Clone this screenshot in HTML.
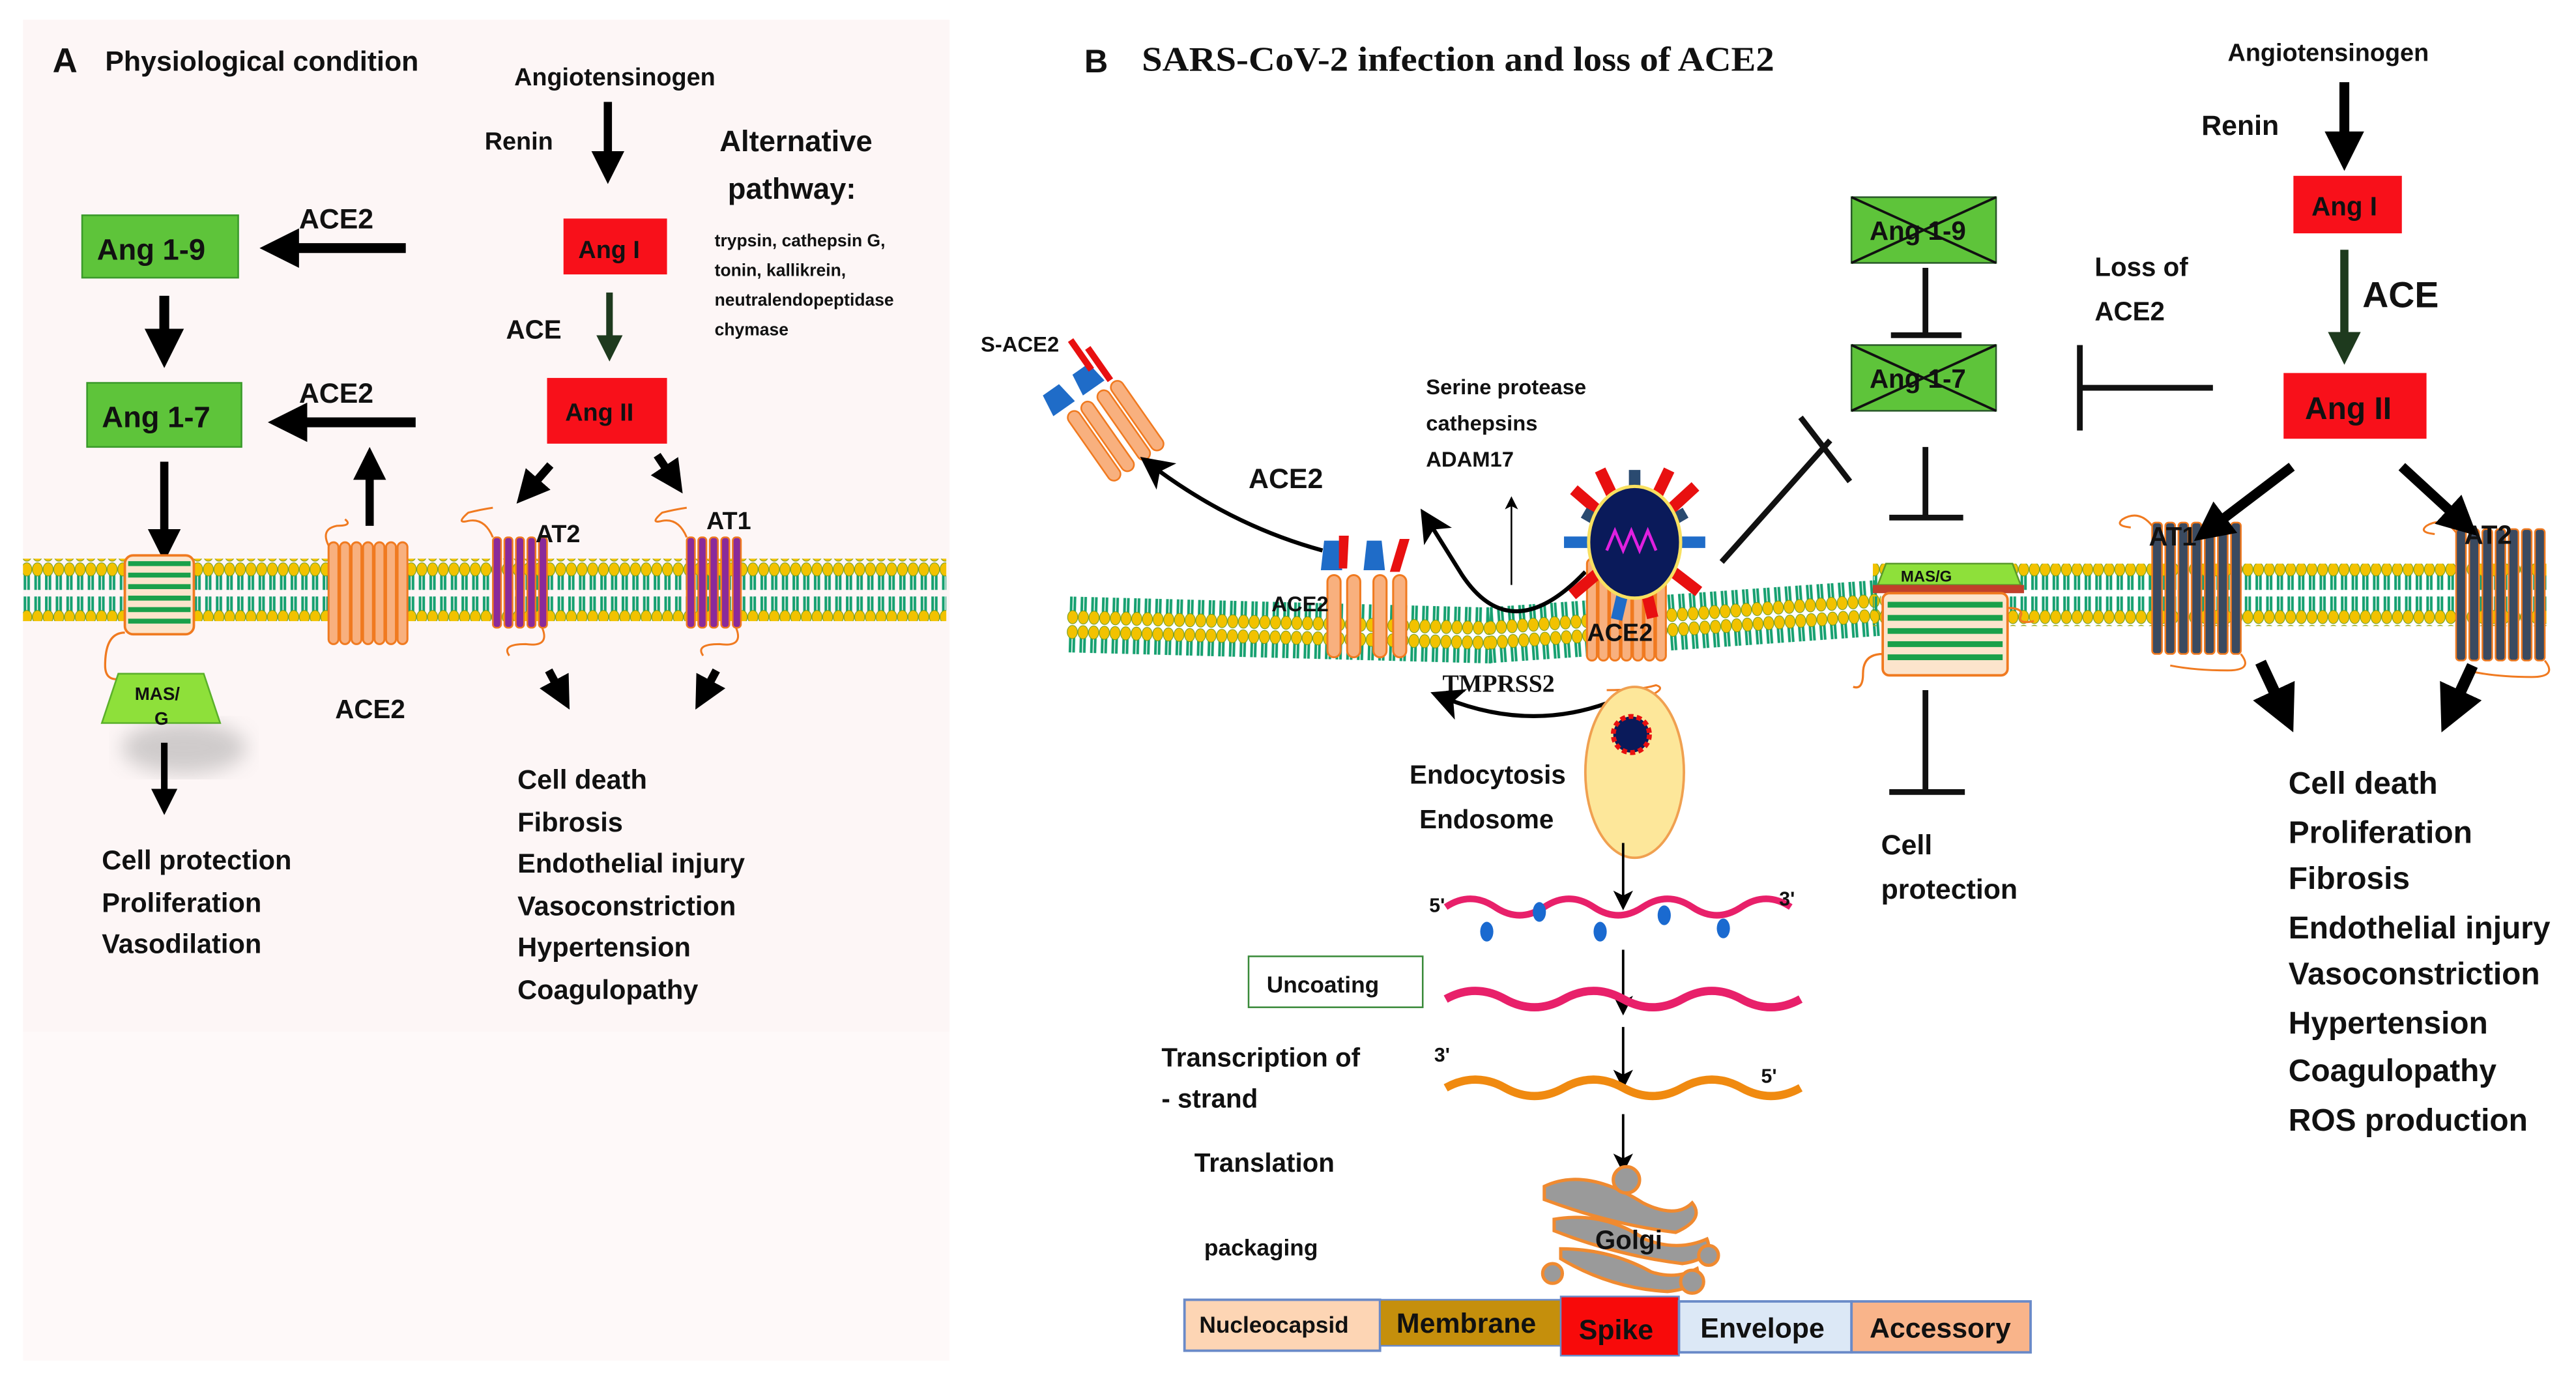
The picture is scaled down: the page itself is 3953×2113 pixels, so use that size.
<!DOCTYPE html>
<html><head><meta charset="utf-8"><style>
html,body{margin:0;padding:0;background:#fff;width:3953px;height:2113px;overflow:hidden}
svg{display:block}
text{font-family:"Liberation Sans",sans-serif;font-weight:bold;fill:#111}
.s{font-family:"Liberation Serif",serif}
</style></head><body>
<svg width="3953" height="2113" viewBox="0 0 1568 838" preserveAspectRatio="none" xmlns="http://www.w3.org/2000/svg">
<defs>
<pattern id="lip" width="6.5" height="38" patternUnits="userSpaceOnUse">
<line x1="2.2" y1="5" x2="2.2" y2="17" stroke="#16a070" stroke-width="1.6"/>
<line x1="4.4" y1="5" x2="4.4" y2="17" stroke="#16a070" stroke-width="1.6"/>
<line x1="2.2" y1="21" x2="2.2" y2="33" stroke="#16a070" stroke-width="1.6"/>
<line x1="4.4" y1="21" x2="4.4" y2="33" stroke="#16a070" stroke-width="1.6"/>
<ellipse cx="3.3" cy="4.5" rx="3.1" ry="4" fill="#f2c200" stroke="#6a9a20" stroke-width=".4"/>
<ellipse cx="3.3" cy="33.5" rx="3.1" ry="4" fill="#f2c200" stroke="#6a9a20" stroke-width=".4"/>
</pattern>
<filter id="bl"><feGaussianBlur stdDeviation="6"/></filter>
<marker id="ah" markerWidth="4" markerHeight="4" refX="2" refY="2" orient="auto" markerUnits="strokeWidth"><path d="M0,0 L4,2 L0,4z" fill="#000"/></marker>
<marker id="ahg" markerWidth="4" markerHeight="4" refX="2" refY="2" orient="auto" markerUnits="strokeWidth"><path d="M0,0 L4,2 L0,4z" fill="#1e3a1e"/></marker>
<marker id="ahs" markerWidth="8" markerHeight="8" refX="4" refY="4" orient="auto" markerUnits="strokeWidth"><path d="M0,0 L8,4 L0,8 L2,4z" fill="#000"/></marker>
<g id="rec7o"><rect x="0" y="0" width="6" height="62" rx="3" fill="#f8b07e" stroke="#f07a20" stroke-width="1.2"/><rect x="7" y="0" width="6" height="62" rx="3" fill="#f8b07e" stroke="#f07a20" stroke-width="1.2"/><rect x="14" y="0" width="6" height="62" rx="3" fill="#f8b07e" stroke="#f07a20" stroke-width="1.2"/><rect x="21" y="0" width="6" height="62" rx="3" fill="#f8b07e" stroke="#f07a20" stroke-width="1.2"/><rect x="28" y="0" width="6" height="62" rx="3" fill="#f8b07e" stroke="#f07a20" stroke-width="1.2"/><rect x="35" y="0" width="6" height="62" rx="3" fill="#f8b07e" stroke="#f07a20" stroke-width="1.2"/><rect x="42" y="0" width="6" height="62" rx="3" fill="#f8b07e" stroke="#f07a20" stroke-width="1.2"/></g>
<g id="recP"><rect x="0" y="0" width="5" height="55" rx="2" fill="#8a2a9a" stroke="#f07a20" stroke-width="1"/><rect x="7" y="0" width="5" height="55" rx="2" fill="#8a2a9a" stroke="#f07a20" stroke-width="1"/><rect x="14" y="0" width="5" height="55" rx="2" fill="#8a2a9a" stroke="#f07a20" stroke-width="1"/><rect x="21" y="0" width="5" height="55" rx="2" fill="#8a2a9a" stroke="#f07a20" stroke-width="1"/><rect x="28" y="0" width="5" height="55" rx="2" fill="#8a2a9a" stroke="#f07a20" stroke-width="1"/><path d="M0,0 q-5,-12 -15,-10 q-8,2 0,-5 q8,-2 15,-3" fill="none" stroke="#f07a20" stroke-width="1.2"/><path d="M30,55 q5,12 -10,10 q-15,0 -10,7" fill="none" stroke="#f07a20" stroke-width="1.2"/></g>
<g id="recD"><rect x="0" y="0" width="6" height="80" rx="2" fill="#3a4a60" stroke="#f07a20" stroke-width="1"/><rect x="8" y="0" width="6" height="80" rx="2" fill="#3a4a60" stroke="#f07a20" stroke-width="1"/><rect x="16" y="0" width="6" height="80" rx="2" fill="#3a4a60" stroke="#f07a20" stroke-width="1"/><rect x="24" y="0" width="6" height="80" rx="2" fill="#3a4a60" stroke="#f07a20" stroke-width="1"/><rect x="32" y="0" width="6" height="80" rx="2" fill="#3a4a60" stroke="#f07a20" stroke-width="1"/><rect x="40" y="0" width="6" height="80" rx="2" fill="#3a4a60" stroke="#f07a20" stroke-width="1"/><rect x="48" y="0" width="6" height="80" rx="2" fill="#3a4a60" stroke="#f07a20" stroke-width="1"/><path d="M0,2 q-8,-10 -18,-4 q-5,4 5,5" fill="none" stroke="#f07a20" stroke-width="1.2"/><path d="M54,80 q8,10 -8,10 q-20,0 -35,-3" fill="none" stroke="#f07a20" stroke-width="1.2"/></g>
</defs>

<!-- panel A background -->
<rect x="14" y="12" width="564" height="616" fill="#fdf6f6"/>
<rect x="14" y="628" width="564" height="200" fill="#fef9f9"/>

<!-- Panel A -->
<text x="32" y="44" font-size="21">A</text>
<text x="64" y="43" font-size="17">Physiological  condition</text>
<text x="313" y="52" font-size="15">Angiotensinogen</text>
<text x="295" y="91" font-size="15">Renin</text>
<line x1="370" y1="62" x2="370" y2="102" stroke="#000" stroke-width="5" marker-end="url(#ah)"/>
<text x="438" y="92" font-size="18">Alternative</text>
<text x="443" y="121" font-size="18">pathway:</text>
<text x="435" y="150" font-size="10.5">trypsin, cathepsin  G,</text>
<text x="435" y="168" font-size="10.5">tonin, kallikrein,</text>
<text x="435" y="186" font-size="10.5">neutralendopeptidase</text>
<text x="435" y="204" font-size="10.5">chymase</text>
<rect x="343" y="133" width="63" height="34" fill="#f8101a"/>
<text x="352" y="157" font-size="15">Ang I</text>
<text x="308" y="206" font-size="16">ACE</text>
<line x1="371" y1="178" x2="371" y2="212" stroke="#1e3a1e" stroke-width="4" marker-end="url(#ahg)"/>
<rect x="333" y="230" width="73" height="40" fill="#f8101a"/>
<text x="344" y="256" font-size="15">Ang II</text>

<rect x="50" y="131" width="95" height="38" fill="#5ec43a" stroke="#3a9a2a"/>
<text x="59" y="158" font-size="18">Ang 1-9</text>
<rect x="53" y="233" width="94" height="39" fill="#5ec43a" stroke="#3a9a2a"/>
<text x="62" y="260" font-size="18">Ang 1-7</text>
<text x="182" y="139" font-size="17">ACE2</text>
<line x1="247" y1="151" x2="170" y2="151" stroke="#000" stroke-width="6" marker-end="url(#ah)"/>
<text x="182" y="245" font-size="17">ACE2</text>
<line x1="253" y1="257" x2="175" y2="257" stroke="#000" stroke-width="6" marker-end="url(#ah)"/>
<line x1="100" y1="180" x2="100" y2="212" stroke="#000" stroke-width="6" marker-end="url(#ah)"/>
<line x1="100" y1="281" x2="100" y2="332" stroke="#000" stroke-width="5" marker-end="url(#ah)"/>
<line x1="225" y1="320" x2="225" y2="282" stroke="#000" stroke-width="5" marker-end="url(#ah)"/>

<rect x="14" y="340" width="562" height="38" fill="url(#lip)"/>
<!-- MAS receptor -->
<rect x="76" y="338" width="42" height="48" rx="5" fill="#fce4cc" stroke="#f07a20" stroke-width="1.5"/>
<g stroke="#1aa04a" stroke-width="3"><line x1="78" y1="343" x2="116" y2="343"/><line x1="78" y1="350" x2="116" y2="350"/><line x1="78" y1="357" x2="116" y2="357"/><line x1="78" y1="364" x2="116" y2="364"/><line x1="78" y1="371" x2="116" y2="371"/><line x1="78" y1="378" x2="116" y2="378"/></g>
<path d="M76,385 q-12,0 -12,20 q0,10 10,8" fill="none" stroke="#f07a20" stroke-width="1.3"/>
<ellipse cx="112" cy="455" rx="38" ry="16" fill="#999" opacity=".45" filter="url(#bl)"/>
<path d="M72,410 L124,410 L134,440 L62,440z" fill="#8ee03a" stroke="#5ab02a"/>
<text x="82" y="426" font-size="11">MAS/</text>
<text x="94" y="441" font-size="11">G</text>
<line x1="100" y1="452" x2="100" y2="488" stroke="#000" stroke-width="4" marker-end="url(#ah)"/>
<use href="#rec7o" x="200" y="330"/>
<path d="M200,332 q-5,-10 5,-12 q10,0 5,-4" fill="none" stroke="#f07a20" stroke-width="1.2"/>
<text x="204" y="437" font-size="16">ACE2</text>
<use href="#recP" x="300" y="327"/>
<use href="#recP" x="418" y="327"/>
<text x="326" y="330" font-size="15">AT2</text>
<text x="430" y="322" font-size="15">AT1</text>
<line x1="335" y1="283" x2="321" y2="299" stroke="#000" stroke-width="5" marker-end="url(#ah)"/>
<line x1="400" y1="277" x2="410" y2="292" stroke="#000" stroke-width="5" marker-end="url(#ah)"/>
<line x1="334" y1="408" x2="342" y2="423" stroke="#000" stroke-width="5" marker-end="url(#ah)"/>
<line x1="436" y1="408" x2="428" y2="423" stroke="#000" stroke-width="5" marker-end="url(#ah)"/>
<g font-size="16.5">
<text x="62" y="529">Cell protection</text>
<text x="62" y="555">Proliferation</text>
<text x="62" y="580">Vasodilation</text>
<text x="315" y="480">Cell death</text>
<text x="315" y="506">Fibrosis</text>
<text x="315" y="531">Endothelial injury</text>
<text x="315" y="557">Vasoconstriction</text>
<text x="315" y="582">Hypertension</text>
<text x="315" y="608">Coagulopathy</text>
</g>

<!-- Panel B -->
<text x="660" y="44" font-size="20">B</text>
<text x="695" y="43" font-size="21" class="s" textLength="385" lengthAdjust="spacingAndGlyphs">SARS-CoV-2 infection  and loss of ACE2</text>
<text x="1356" y="37" font-size="15">Angiotensinogen</text>
<text x="1340" y="82" font-size="17">Renin</text>
<line x1="1427" y1="50" x2="1427" y2="92" stroke="#000" stroke-width="6" marker-end="url(#ah)"/>
<rect x="1396" y="107" width="66" height="35" fill="#f8101a"/>
<text x="1407" y="131" font-size="16">Ang I</text>
<text x="1438" y="187" font-size="22">ACE</text>
<line x1="1427" y1="152" x2="1427" y2="212" stroke="#1e3a1e" stroke-width="5" marker-end="url(#ahg)"/>
<rect x="1390" y="227" width="87" height="40" fill="#f8101a"/>
<text x="1403" y="255" font-size="19">Ang II</text>
<text x="1275" y="168" font-size="16">Loss of</text>
<text x="1275" y="195" font-size="16">ACE2</text>

<rect x="1127" y="120" width="88" height="40" fill="#5ec43a" stroke="#2a5a2a"/>
<text x="1138" y="146" font-size="16">Ang 1-9</text>
<path d="M1127,120 L1215,160 M1215,120 L1127,160" stroke="#111" stroke-width="1.5"/>
<rect x="1127" y="210" width="88" height="40" fill="#5ec43a" stroke="#2a5a2a"/>
<text x="1138" y="236" font-size="16">Ang 1-7</text>
<path d="M1127,210 L1215,250 M1215,210 L1127,250" stroke="#111" stroke-width="1.5"/>
<g stroke="#111" stroke-width="3.5" fill="none">
<path d="M1172,163 L1172,203 M1151,204 L1194,204"/>
<path d="M1172,272 L1172,314 M1150,315 L1195,315"/>
<path d="M1347,236 L1266,236 M1266,210 L1266,262"/>
<path d="M1048,342 L1114,268 M1096,254 L1126,293"/>
<path d="M1172,420 L1172,481 M1150,482 L1196,482"/>
</g>

<!-- membrane B -->
<rect x="650" y="362" width="260" height="38" fill="url(#lip)" transform="rotate(1.5 650 362)"/>
<g transform="rotate(-4 1000 370)"><rect x="905" y="362" width="240" height="38" fill="url(#lip)"/></g>
<rect x="1140" y="343" width="410" height="38" fill="url(#lip)"/>

<!-- MAS/G B -->
<path d="M1148,343 L1225,343 L1230,356 L1143,356z" fill="#8ee03a" stroke="#5a9a2a"/>
<text x="1157" y="354" font-size="9.5">MAS/G</text>
<rect x="1140" y="356" width="92" height="5" fill="#c0402a"/>
<rect x="1146" y="361" width="76" height="50" rx="4" fill="#fce4cc" stroke="#f07a20" stroke-width="1.5"/>
<g stroke="#1aa04a" stroke-width="3.5"><line x1="1149" y1="368" x2="1219" y2="368"/><line x1="1149" y1="376" x2="1219" y2="376"/><line x1="1149" y1="384" x2="1219" y2="384"/><line x1="1149" y1="392" x2="1219" y2="392"/><line x1="1149" y1="400" x2="1219" y2="400"/></g>
<path d="M1146,398 q-12,0 -12,12 q0,10 -6,8 M1222,370 q10,0 8,5 q-2,5 8,3" fill="none" stroke="#f07a20" stroke-width="1.3"/>
<text x="1145" y="520" font-size="17">Cell</text>
<text x="1145" y="547" font-size="17">protection</text>

<use href="#recD" x="1310" y="318"/>
<use href="#recD" x="1495" y="322"/>
<text x="1308" y="332" font-size="16">AT1</text>
<text x="1500" y="331" font-size="16">AT2</text>
<line x1="1395" y1="284" x2="1345" y2="322" stroke="#000" stroke-width="6" marker-end="url(#ah)"/>
<line x1="1462" y1="284" x2="1499" y2="318" stroke="#000" stroke-width="6" marker-end="url(#ah)"/>
<line x1="1376" y1="403" x2="1390" y2="433" stroke="#000" stroke-width="7" marker-end="url(#ah)"/>
<line x1="1505" y1="405" x2="1492" y2="433" stroke="#000" stroke-width="7" marker-end="url(#ah)"/>
<g font-size="19">
<text x="1393" y="483">Cell death</text>
<text x="1393" y="513">Proliferation</text>
<text x="1393" y="541">Fibrosis</text>
<text x="1393" y="571">Endothelial  injury</text>
<text x="1393" y="599">Vasoconstriction</text>
<text x="1393" y="629">Hypertension</text>
<text x="1393" y="658">Coagulopathy</text>
<text x="1393" y="688">ROS production</text>
</g>

<!-- S-ACE2 -->
<text x="597" y="214" font-size="13">S-ACE2</text>
<g transform="rotate(-35 675 265)">
<rect x="660" y="240" width="8" height="50" rx="4" fill="#f8b07e" stroke="#f07a20"/>
<rect x="670" y="240" width="8" height="50" rx="4" fill="#f8b07e" stroke="#f07a20"/>
<rect x="682" y="240" width="8" height="50" rx="4" fill="#f8b07e" stroke="#f07a20"/>
<rect x="692" y="240" width="8" height="50" rx="4" fill="#f8b07e" stroke="#f07a20"/>
<path d="M656,222 L668,222 L670,236 L654,236z" fill="#1f6cc8"/>
<path d="M678,222 L690,222 L692,236 L676,236z" fill="#1f6cc8"/>
<rect x="693" y="214" width="4" height="24" fill="#e81010"/>
</g>
<rect x="656" y="205" width="4" height="22" fill="#e81010" transform="rotate(-35 658 216)"/>
<text x="760" y="297" font-size="17">ACE2</text>
<path d="M805,335 Q750,320 702,284" fill="none" stroke="#000" stroke-width="2.5" marker-end="url(#ahs)"/>
<text x="868" y="240" font-size="13">Serine protease</text>
<text x="868" y="262" font-size="13">cathepsins</text>
<text x="868" y="284" font-size="13">ADAM17</text>
<line x1="920" y1="356" x2="920" y2="306" stroke="#000" stroke-width="1" marker-end="url(#ahs)"/>
<path d="M965,348 Q920,395 890,350 L870,318" fill="none" stroke="#000" stroke-width="2.5" marker-end="url(#ahs)"/>

<!-- ACE2 membrane small -->
<g fill="#f8b07e" stroke="#f07a20" stroke-width="1.2">
<rect x="808" y="350" width="8" height="50" rx="4"/><rect x="820" y="350" width="8" height="50" rx="4"/>
<rect x="836" y="350" width="8" height="50" rx="4"/><rect x="848" y="350" width="8" height="50" rx="4"/>
</g>
<path d="M806,329 L815,329 L817,347 L804,347z" fill="#1f6cc8"/>
<path d="M832,329 L841,329 L843,347 L830,347z" fill="#1f6cc8"/>
<path d="M815,326 L821,326 L820,346 L815,346z" fill="#e81010"/>
<path d="M852,328 L858,328 L852,348 L846,348z" fill="#e81010"/>
<text x="774" y="372" font-size="13">ACE2</text>

<!-- ACE2 big -->
<use href="#rec7o" x="966" y="340"/>
<text x="966" y="390" font-size="15">ACE2</text>
<!-- virus -->
<g>
<g stroke-width="7">
<line x1="995" y1="330" x2="995" y2="286" stroke="#2a4a70"/>
<line x1="995" y1="330" x2="1032" y2="296" stroke="#e81010"/>
<line x1="995" y1="330" x2="1038" y2="330" stroke="#1f6cc8"/>
<line x1="995" y1="330" x2="1034" y2="360" stroke="#e81010"/>
<line x1="995" y1="330" x2="1006" y2="376" stroke="#e81010"/>
<line x1="995" y1="330" x2="984" y2="377" stroke="#1f6cc8"/>
<line x1="995" y1="330" x2="957" y2="362" stroke="#e81010"/>
<line x1="995" y1="330" x2="952" y2="330" stroke="#1f6cc8"/>
<line x1="995" y1="330" x2="958" y2="298" stroke="#e81010"/>
<line x1="995" y1="330" x2="974" y2="286" stroke="#e81010"/>
<line x1="995" y1="330" x2="1016" y2="286" stroke="#e81010"/>
<line x1="995" y1="330" x2="1026" y2="312" stroke="#2a4a70"/>
<line x1="995" y1="330" x2="964" y2="312" stroke="#2a4a70"/>
</g>
<ellipse cx="995" cy="330" rx="28" ry="34" fill="#0a1a5a" stroke="#f8e060" stroke-width="2"/>
<path d="M978,335 l5,-12 l5,12 l5,-12 l5,12 l5,-12 l5,12" fill="none" stroke="#e020e0" stroke-width="1.8"/>
</g>
<text x="878" y="421" font-size="15" class="s">TMPRSS2</text>
<path d="M978,428 Q930,445 880,425" fill="none" stroke="#000" stroke-width="2.5" marker-end="url(#ahs)"/>
<path d="M978,420 q20,0 30,-3 q10,3 -20,12" fill="none" stroke="#f07a20" stroke-width="1.2"/>
<ellipse cx="995" cy="470" rx="30" ry="52" fill="#fde79a" stroke="#f0a050" stroke-width="1.5"/>
<circle cx="993" cy="447" r="11" fill="#0a1a5a" stroke="#e81010" stroke-width="3" stroke-dasharray="3 2"/>
<text x="858" y="477" font-size="16">Endocytosis</text>
<text x="864" y="504" font-size="16">Endosome</text>

<!-- RNA -->
<line x1="988" y1="513" x2="988" y2="548" stroke="#000" stroke-width="1.5" marker-end="url(#ahs)"/>
<path d="M880,552 q15,-10 30,0 t30,0 t30,0 t30,0 t30,0 t30,0 t30,0" fill="none" stroke="#e8206a" stroke-width="4"/>
<g fill="#1a6ad0"><ellipse cx="905" cy="567" rx="4" ry="6"/><ellipse cx="937" cy="555" rx="4" ry="6"/><ellipse cx="974" cy="567" rx="4" ry="6"/><ellipse cx="1013" cy="557" rx="4" ry="6"/><ellipse cx="1049" cy="565" rx="4" ry="6"/></g>
<text x="870" y="555" font-size="12">5'</text>
<text x="1083" y="551" font-size="12">3'</text>
<rect x="760" y="582" width="106" height="31" fill="#fff" stroke="#3a8a3a"/>
<text x="771" y="604" font-size="14">Uncoating</text>
<line x1="988" y1="578" x2="988" y2="612" stroke="#000" stroke-width="1.5" marker-end="url(#ahs)"/>
<path d="M880,608 q18,-10 36,0 t36,0 t36,0 t36,0 t36,0 t36,0" fill="none" stroke="#e8206a" stroke-width="5"/>
<text x="707" y="649" font-size="16">Transcription of</text>
<text x="707" y="674" font-size="16">- strand</text>
<text x="873" y="646" font-size="12">3'</text>
<text x="1072" y="659" font-size="12">5'</text>
<line x1="988" y1="625" x2="988" y2="657" stroke="#000" stroke-width="1.5" marker-end="url(#ahs)"/>
<path d="M880,662 q18,-10 36,0 t36,0 t36,0 t36,0 t36,0 t36,0" fill="none" stroke="#f08a10" stroke-width="5"/>
<line x1="988" y1="678" x2="988" y2="708" stroke="#000" stroke-width="1.5" marker-end="url(#ahs)"/>
<text x="727" y="713" font-size="16">Translation</text>
<text x="733" y="764" font-size="14">packaging</text>
<!-- Golgi -->
<g fill="#9a9a9a" stroke="#f08a30" stroke-width="2">
<path d="M940,722 q25,-12 60,10 q20,10 30,0 q8,10 -10,18 q-40,-5 -80,-20z"/>
<path d="M946,742 q30,-5 55,12 q20,8 38,0 q5,12 -15,15 q-40,-5 -78,-20z"/>
<path d="M950,760 q30,0 55,14 q15,5 28,-2 q3,12 -18,14 q-35,-2 -65,-20z"/>
<circle cx="990" cy="718" r="8"/><circle cx="1040" cy="764" r="6"/><circle cx="1030" cy="780" r="7"/><circle cx="945" cy="775" r="6"/>
</g>
<text x="971" y="760" font-size="16">Golgi</text>

<!-- bottom bar -->
<rect x="721" y="791" width="119" height="31" fill="#fdd5b4" stroke="#6a8ac8" stroke-width="1.5"/>
<text x="730" y="811" font-size="14">Nucleocapsid</text>
<rect x="840" y="791" width="110" height="28" fill="#c58f0c" stroke="#6a8ac8" stroke-width="1"/>
<text x="850" y="811" font-size="17">Membrane</text>
<rect x="950" y="789" width="72" height="36" fill="#f80a0a" stroke="#6a8ac8" stroke-width="1"/>
<text x="961" y="815" font-size="17">Spike</text>
<rect x="1022" y="792" width="105" height="31" fill="#dce8f6" stroke="#6a8ac8" stroke-width="1.5"/>
<text x="1035" y="814" font-size="17">Envelope</text>
<rect x="1127" y="792" width="109" height="31" fill="#f9b48a" stroke="#6a8ac8" stroke-width="1.5"/>
<text x="1138" y="814" font-size="17">Accessory</text>
</svg>
</body></html>
